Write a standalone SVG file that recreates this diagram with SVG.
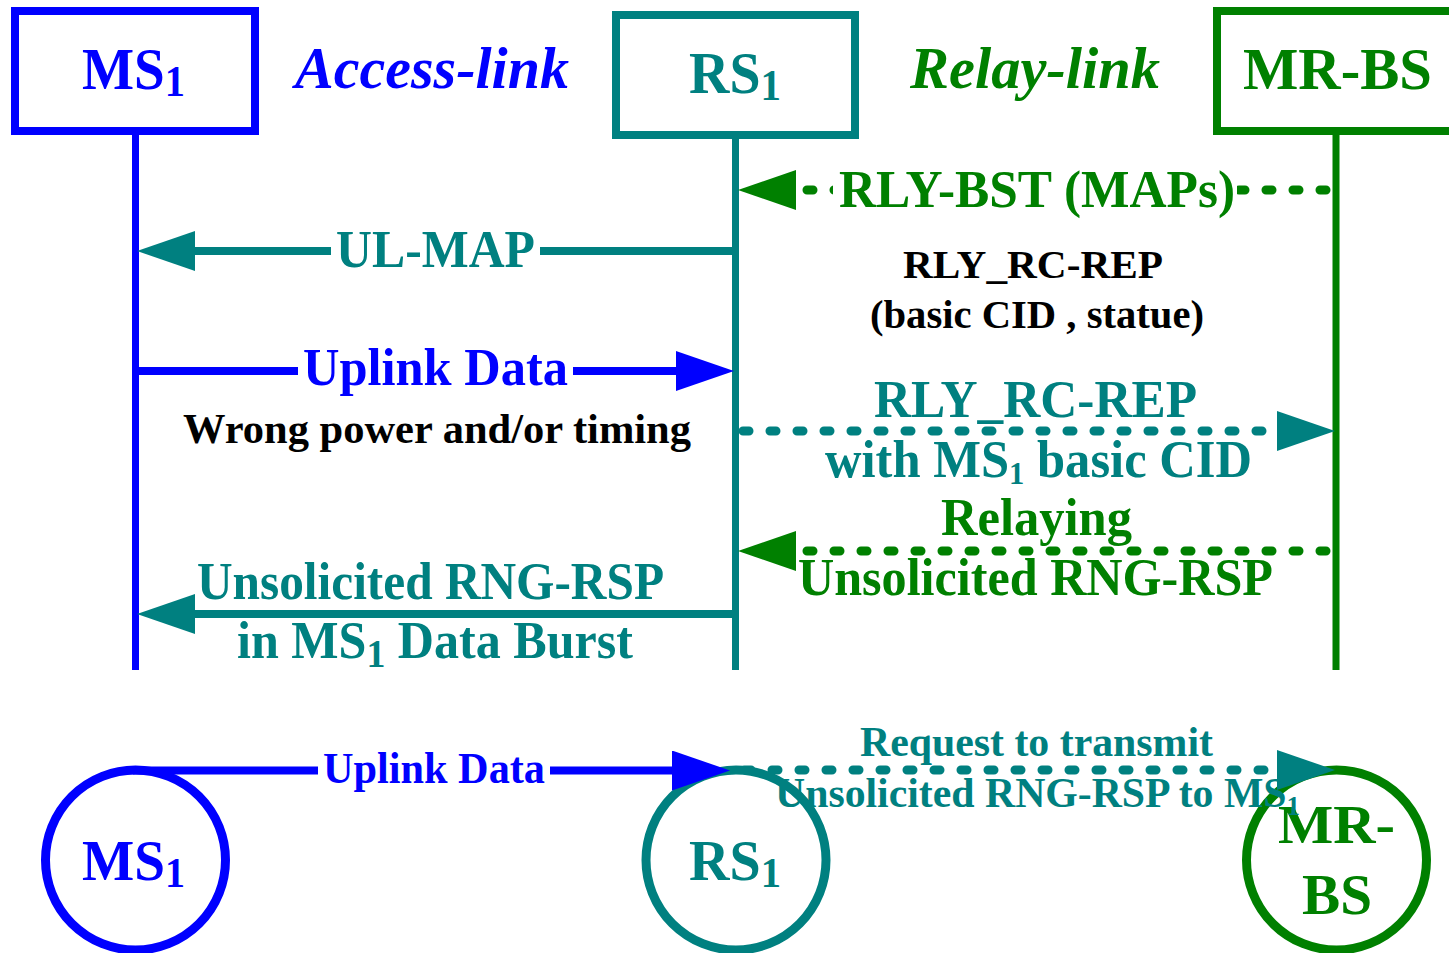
<svg xmlns="http://www.w3.org/2000/svg" width="1449" height="953" viewBox="0 0 1449 953">
<style>
text{font-family:"Liberation Serif","Times New Roman",serif;font-weight:bold}
.blue{fill:#0000FF}.teal{fill:#008080}.green{fill:#008000}.black{fill:#000}
.it{font-style:italic}
.box{fill:#fff;stroke-width:8}
.circ{fill:#fff;stroke-width:9}
.life{stroke-width:7;fill:none}
.solid{stroke-width:8;fill:none}
.dot{stroke-width:9;fill:none;stroke-linecap:round;stroke-dasharray:6 21}
.bg{fill:#fff}
</style>
<defs>
<marker id="aBlue" viewBox="0 0 58 40" refX="1" refY="20" markerWidth="58" markerHeight="40" markerUnits="userSpaceOnUse" orient="auto"><path d="M0,0 L58,20 L0,40 z" fill="#0000FF"/></marker>
<marker id="aTeal" viewBox="0 0 58 40" refX="1" refY="20" markerWidth="58" markerHeight="40" markerUnits="userSpaceOnUse" orient="auto"><path d="M0,0 L58,20 L0,40 z" fill="#008080"/></marker>
<marker id="aGreen" viewBox="0 0 58 40" refX="1" refY="20" markerWidth="58" markerHeight="40" markerUnits="userSpaceOnUse" orient="auto"><path d="M0,0 L58,20 L0,40 z" fill="#008000"/></marker>
</defs>
<rect width="1449" height="953" fill="#fff"/>

<g id="ms1-box">
<rect class="box" x="15" y="11" width="240" height="120" stroke="#0000FF"/>
<text class="blue" x="82" y="89" font-size="60" textLength="103" lengthAdjust="spacingAndGlyphs">MS<tspan font-size="44" dy="7">1</tspan></text>
</g>
<g id="rs1-box">
<rect class="box" x="616" y="15" width="239" height="120" stroke="#008080"/>
<text class="teal" x="689" y="93" font-size="60" textLength="92" lengthAdjust="spacingAndGlyphs">RS<tspan font-size="44" dy="7">1</tspan></text>
</g>
<g id="mrbs-box">
<rect class="box" x="1217" y="11" width="260" height="120" stroke="#008000"/>
<text class="green" x="1243" y="89" font-size="60" textLength="189" lengthAdjust="spacingAndGlyphs">MR-BS</text>
</g>
<g id="access-link-label">
<text class="blue it" x="295" y="88" font-size="60" textLength="274" lengthAdjust="spacingAndGlyphs">Access-link</text>
</g>
<g id="relay-link-label">
<text class="green it" x="910" y="88" font-size="60" textLength="250" lengthAdjust="spacingAndGlyphs">Relay-link</text>
</g>

<g id="ms1-circle">
<circle class="circ" cx="135.5" cy="860" r="90" stroke="#0000FF"/>
<text class="blue" x="82" y="880" font-size="58" textLength="103" lengthAdjust="spacingAndGlyphs">MS<tspan font-size="42" dy="7">1</tspan></text>
</g>
<g id="rs1-circle">
<circle class="circ" cx="736" cy="860" r="90" stroke="#008080"/>
<text class="teal" x="689" y="880" font-size="58" textLength="92" lengthAdjust="spacingAndGlyphs">RS<tspan font-size="42" dy="7">1</tspan></text>
</g>
<g id="mrbs-circle">
<circle class="circ" cx="1336.5" cy="860" r="90" stroke="#008000"/>
<text class="green" x="1278" y="843" font-size="55" textLength="117" lengthAdjust="spacingAndGlyphs">MR-</text>
<text class="green" x="1302" y="914" font-size="57" textLength="70" lengthAdjust="spacingAndGlyphs">BS</text>
</g>

<g id="connectors">
<line class="life" x1="135.5" y1="131" x2="135.5" y2="670" stroke="#0000FF"/>
<line class="life" x1="735.5" y1="135" x2="735.5" y2="670" stroke="#008080"/>
<line class="life" x1="1336" y1="131" x2="1336" y2="670" stroke="#008000"/>

<line class="dot" x1="1326" y1="190" x2="795" y2="190" stroke="#008000" marker-end="url(#aGreen)"/>
<rect class="bg" x="833" y="165" width="404" height="52"/>
<text class="green" x="839" y="207" font-size="53" textLength="396" lengthAdjust="spacingAndGlyphs">RLY-BST (MAPs)</text>

<text class="black" x="903" y="278" font-size="39" textLength="260" lengthAdjust="spacingAndGlyphs">RLY_RC-REP</text>
<text class="black" x="870" y="328" font-size="39" textLength="334" lengthAdjust="spacingAndGlyphs">(basic CID , statue)</text>

<line class="solid" x1="735" y1="251" x2="194" y2="251" stroke="#008080" marker-end="url(#aTeal)"/>
<rect class="bg" x="331" y="228" width="209" height="46"/>
<text class="teal" x="336" y="267" font-size="53" textLength="199" lengthAdjust="spacingAndGlyphs">UL-MAP</text>

<line class="solid" x1="136" y1="371" x2="677" y2="371" stroke="#0000FF" marker-end="url(#aBlue)"/>
<rect class="bg" x="298" y="345" width="275" height="52"/>
<text class="blue" x="303" y="385" font-size="52" textLength="265" lengthAdjust="spacingAndGlyphs">Uplink Data</text>
<text class="black" x="183" y="443" font-size="42" textLength="508" lengthAdjust="spacingAndGlyphs">Wrong power and/or timing</text>

<line class="dot" x1="743" y1="431" x2="1278" y2="431" stroke="#008080" marker-end="url(#aTeal)"/>
<text class="teal" x="874" y="417" font-size="53" textLength="323" lengthAdjust="spacingAndGlyphs">RLY_RC-REP</text>
<text class="teal" x="825" y="477" font-size="53" textLength="427" lengthAdjust="spacingAndGlyphs">with MS<tspan font-size="32" dy="7">1</tspan><tspan dy="-7"> basic CID</tspan></text>

<line class="dot" x1="1326" y1="551" x2="795" y2="551" stroke="#008000" marker-end="url(#aGreen)"/>
<text class="green" x="941" y="535" font-size="53" textLength="191" lengthAdjust="spacingAndGlyphs">Relaying</text>
<text class="green" x="798" y="595" font-size="53" textLength="475" lengthAdjust="spacingAndGlyphs">Unsolicited RNG-RSP</text>

<line class="solid" x1="735" y1="614" x2="194" y2="614" stroke="#008080" marker-end="url(#aTeal)"/>
<text class="teal" x="197" y="599" font-size="53" textLength="467" lengthAdjust="spacingAndGlyphs">Unsolicited RNG-RSP</text>
<text class="teal" x="237" y="658" font-size="53" textLength="396" lengthAdjust="spacingAndGlyphs">in MS<tspan font-size="40" dy="9">1</tspan><tspan dy="-9"> Data Burst</tspan></text>

<line class="solid" x1="133" y1="770.5" x2="673" y2="770.5" stroke="#0000FF" stroke-width="9" marker-end="url(#aBlue)"/>
<rect class="bg" x="318" y="748" width="232" height="46"/>
<text class="blue" x="323" y="783" font-size="45" textLength="222" lengthAdjust="spacingAndGlyphs">Uplink Data</text>

<line class="dot" x1="745" y1="770" x2="1278" y2="770" stroke="#008080" marker-end="url(#aTeal)"/>
<text class="teal" x="860" y="756" font-size="43" textLength="353" lengthAdjust="spacingAndGlyphs">Request to transmit</text>
<text class="teal" x="775" y="807" font-size="42" textLength="525" lengthAdjust="spacingAndGlyphs">Unsolicited RNG-RSP to MS<tspan font-size="27" dy="8">1</tspan></text>
</g>
</svg>
